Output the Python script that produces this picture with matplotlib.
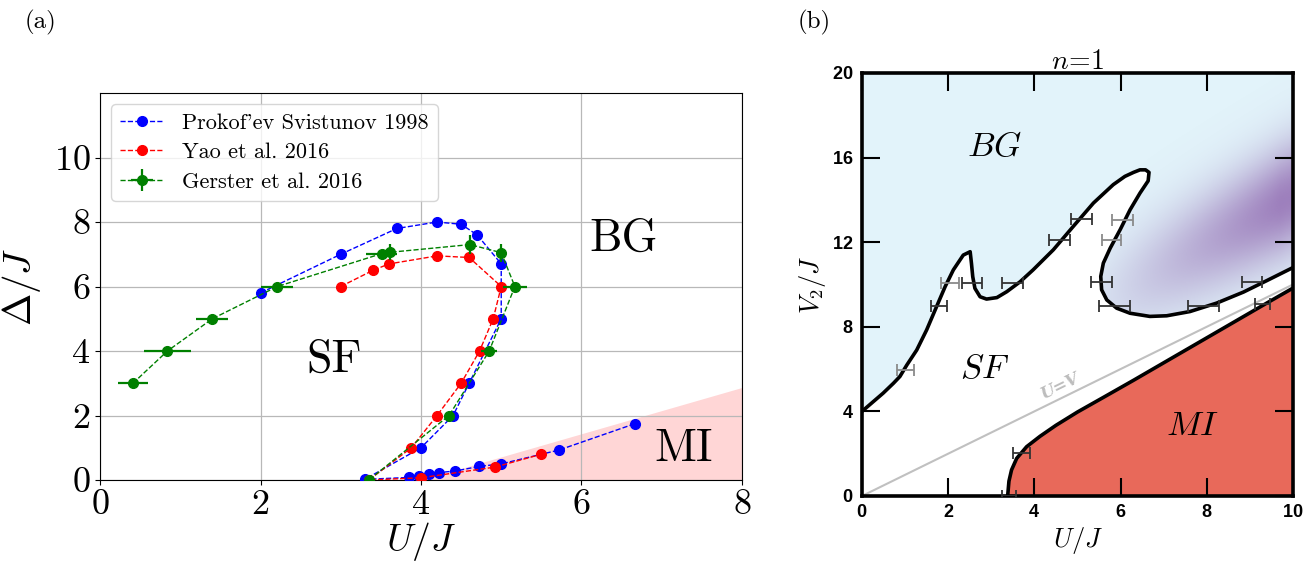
import numpy as np
import matplotlib.pyplot as plt

plt.rcParams['mathtext.fontset'] = 'cm'
plt.rcParams['axes.formatter.use_mathtext'] = True

# ---- panel (a) data ----
ps_u = [2.0, 3.0, 3.7, 4.2, 4.5, 4.7, 5.0, 5.0, 4.6, 4.4, 4.0, 3.3,
        3.85, 3.98, 4.1, 4.22, 4.43, 4.72, 5.0, 5.72, 6.67]
ps_d = [5.8, 7.0, 7.8, 8.0, 7.93, 7.6, 6.7, 5.0, 3.0, 2.0, 1.0, 0.02,
        0.08, 0.14, 0.18, 0.23, 0.28, 0.42, 0.5, 0.93, 1.75]

yao_u = [3.0, 3.4, 3.6, 4.2, 4.6, 5.0, 4.9, 4.73, 4.5, 4.2, 3.88, 3.35, 4.0, 4.92, 5.5]
yao_d = [6.0, 6.5, 6.7, 6.95, 6.9, 6.0, 5.0, 4.0, 3.0, 2.0, 1.0, 0.0, 0.07, 0.4, 0.8]

ger_u = [0.41, 0.84, 1.4, 2.21, 3.51, 3.61, 4.61, 5.0, 5.17, 4.85, 4.35, 3.35]
ger_d = [3.0, 4.0, 5.0, 6.0, 7.02, 7.06, 7.3, 7.05, 6.0, 4.0, 2.0, 0.0]
ger_uerr = [0.19, 0.29, 0.2, 0.2, 0.19, 0.0, 0.0, 0.0, 0.15, 0.1, 0.06, 0.0]
ger_derr = [0, 0, 0, 0, 0, 0.25, 0.3, 0.28, 0, 0, 0, 0]

mi_u = [4.0, 8.0]
mi_d = [0.0, 2.87]

# ---- panel (b) data ----
bg_x = [0.0, 0.49, 0.73, 0.88, 1.04, 1.27, 1.5, 1.73, 1.93, 2.12, 2.35, 2.51,
        2.54, 2.57, 2.62, 2.74, 2.89, 3.13, 3.36, 3.67, 3.97, 4.44, 4.9, 5.37,
        5.83, 6.1, 6.3, 6.45, 6.58, 6.66, 6.64, 6.45, 6.22, 5.99, 5.76, 5.6,
        5.54, 5.56, 5.68, 5.91, 6.22, 6.68, 7.07, 7.61, 8.23, 8.85, 9.4, 10.0]
bg_y = [4.0, 4.86, 5.33, 5.65, 6.19, 6.9, 7.85, 8.95, 9.9, 10.69, 11.39, 11.55,
        11.0, 10.37, 9.82, 9.42, 9.31, 9.38, 9.66, 10.13, 10.69, 11.64, 12.74, 13.85,
        14.72, 15.11, 15.3, 15.42, 15.42, 15.3, 14.9, 14.32, 13.53, 12.59, 11.72, 11.01,
        10.38, 9.75, 9.27, 8.88, 8.64, 8.49, 8.52, 8.72, 9.12, 9.64, 10.19, 10.8]

mi_x = [3.38, 3.41, 3.47, 3.59, 3.82, 4.13, 4.5, 5.0, 5.6, 6.3, 7.85, 9.4, 10.0]
mi_y = [0.0, 0.7, 1.23, 1.78, 2.33, 2.82, 3.34, 3.97, 4.66, 5.47, 7.3, 9.13, 9.83]

uv_x = [0, 10]
uv_y = [0, 10]

eb_x = [1.01, 1.79, 2.04, 2.56, 3.49, 4.58, 5.1, 6.05, 5.79, 5.56, 5.86, 7.92, 9.05, 9.3, 3.7, 3.41]
eb_y = [5.96, 9.0, 10.06, 10.06, 10.06, 12.1, 13.1, 13.06, 12.1, 10.1, 9.0, 9.0, 10.1, 9.1, 2.05, 0.0]
eb_err = [0.2, 0.18, 0.2, 0.23, 0.24, 0.24, 0.24, 0.24, 0.23, 0.24, 0.36, 0.36, 0.24, 0.17, 0.19, 0.17]
eb_grey = [True, False, True, False, False, False, False, True, True, False, False, False, False, False, False, False]

fig = plt.figure(figsize=(13.16, 5.64), dpi=100)

# ================= (a) =================
ax = fig.add_axes([0.076, 0.1489, 0.4878, 0.6862])
ax.fill_between(mi_u, 0, mi_d, color='#ffd6d6', lw=0, zorder=0)
ax.plot(ps_u, ps_d, 'o--', color='blue', ms=7, lw=1, label="Prokof'ev Svistunov 1998", zorder=3)
ax.plot(yao_u, yao_d, 'o--', color='red', ms=7, lw=1, label='Yao et al. 2016', zorder=3)
ax.errorbar(ger_u, ger_d, xerr=ger_uerr, yerr=ger_derr, fmt='o--', color='green',
            ms=7, lw=1, elinewidth=1.6, capsize=0, label='Gerster et al. 2016', zorder=3)
ax.set_xlim(0, 8)
ax.set_ylim(0, 12)
ax.set_xticks([0, 2, 4, 6, 8])
ax.set_yticks([0, 2, 4, 6, 8, 10])
ax.grid(True, color='#b8b8b8', lw=0.9)
ax.set_axisbelow(True)
for lab in ax.get_xticklabels() + ax.get_yticklabels():
    lab.set_fontfamily('cmr10')
    lab.set_fontsize(26)
ax.set_xlabel(r'$U/J$', fontsize=27, labelpad=-1)
ax.set_ylabel(r'$\Delta/J$', fontsize=28, labelpad=8)
ax.text(2.92, 3.72, 'SF', fontsize=33, family='cmr10', ha='center', va='center')
ax.text(6.52, 7.47, 'BG', fontsize=33, family='cmr10', ha='center', va='center')
ax.text(7.27, 0.95, 'MI', fontsize=33, family='cmr10', ha='center', va='center')
ax.legend(loc='upper left', prop={'family': 'cmr10', 'size': 16}, framealpha=0.8,
          labelspacing=0.45)
fig.text(0.019, 0.96, '(a)', fontsize=18, family='cmr10', va='center')

# ================= (b) =================
bx = fig.add_axes([0.655, 0.1206, 0.3275, 0.75])
bx.set_facecolor('#e2f3fa')
bx.set_xlim(0, 10)
bx.set_ylim(0, 20)

# purple shading in the BG region
gx, gy = np.meshgrid(np.linspace(0, 10, 400), np.linspace(0, 20, 400))
centre = 13.8 + 1.1 * (gx - 9.7)
inten = np.exp(-((gy - centre) / 2.6) ** 2) * np.clip((gx - 4.8) / 4.9, 0, 1) ** 1.0
rgba = np.zeros(gx.shape + (4,))
rgba[..., 0] = 150 / 255
rgba[..., 1] = 115 / 255
rgba[..., 2] = 182 / 255
rgba[..., 3] = 0.9 * inten
bx.imshow(rgba, extent=[0, 10, 0, 20], origin='lower', aspect='auto', zorder=0.5,
          interpolation='bilinear')

# SF region (white)
sf_x = list(bg_x) + [10.0] + mi_x[::-1] + [0.0]
sf_y = list(bg_y) + [bg_y[-1]] + mi_y[::-1] + [0.0]
bx.fill(sf_x, sf_y, color='white', lw=0, zorder=1)
# MI region
bx.fill(mi_x + [10.0], mi_y + [0.0], color='#e8695a', lw=0, zorder=1.5)

bx.plot(uv_x, uv_y, color='#c0c0c0', lw=1.5, zorder=1.7)
bx.plot(bg_x, bg_y, color='black', lw=2.6, zorder=2, solid_joinstyle='round')
bx.plot(mi_x, mi_y, color='black', lw=2.6, zorder=2, solid_joinstyle='round')

for x, y, e, g in zip(eb_x, eb_y, eb_err, eb_grey):
    bx.errorbar([x], [y], xerr=[e], fmt='none', ecolor='#8a8a8a' if g else '#333333',
                elinewidth=1.3, capsize=4.5, capthick=1.3, zorder=3)

bx.text(4.6, 5.2, 'U=V', color='#bdbdbd', fontsize=12, fontweight='bold',
        fontstyle='italic', family='DejaVu Serif', rotation=26, ha='center', va='center')
bx.text(3.08, 16.56, r'$BG$', fontsize=25, ha='center', va='center')
bx.text(2.85, 6.04, r'$SF$', fontsize=25, ha='center', va='center')
bx.text(7.68, 3.36, r'$MI$', fontsize=25, ha='center', va='center')

bx.set_xticks([0, 2, 4, 6, 8, 10])
bx.set_yticks([0, 4, 8, 12, 16, 20])
bx.tick_params(direction='in', length=13, width=1.5, top=True, right=True,
               labelsize=13, pad=6)
for lab in bx.get_xticklabels() + bx.get_yticklabels():
    lab.set_fontfamily('Liberation Sans')
    lab.set_fontweight('bold')
for s in bx.spines.values():
    s.set_linewidth(2.6)
bx.set_xlabel(r'$U/J$', fontsize=19, labelpad=3)
bx.set_ylabel(r'$V_2/J$', fontsize=19, labelpad=3)
bx.set_title(r'$n\!=\!1$', fontsize=20, pad=3)
fig.text(0.606, 0.96, '(b)', fontsize=18, family='cmr10', va='center')

fig.savefig('out.png', dpi=100)
